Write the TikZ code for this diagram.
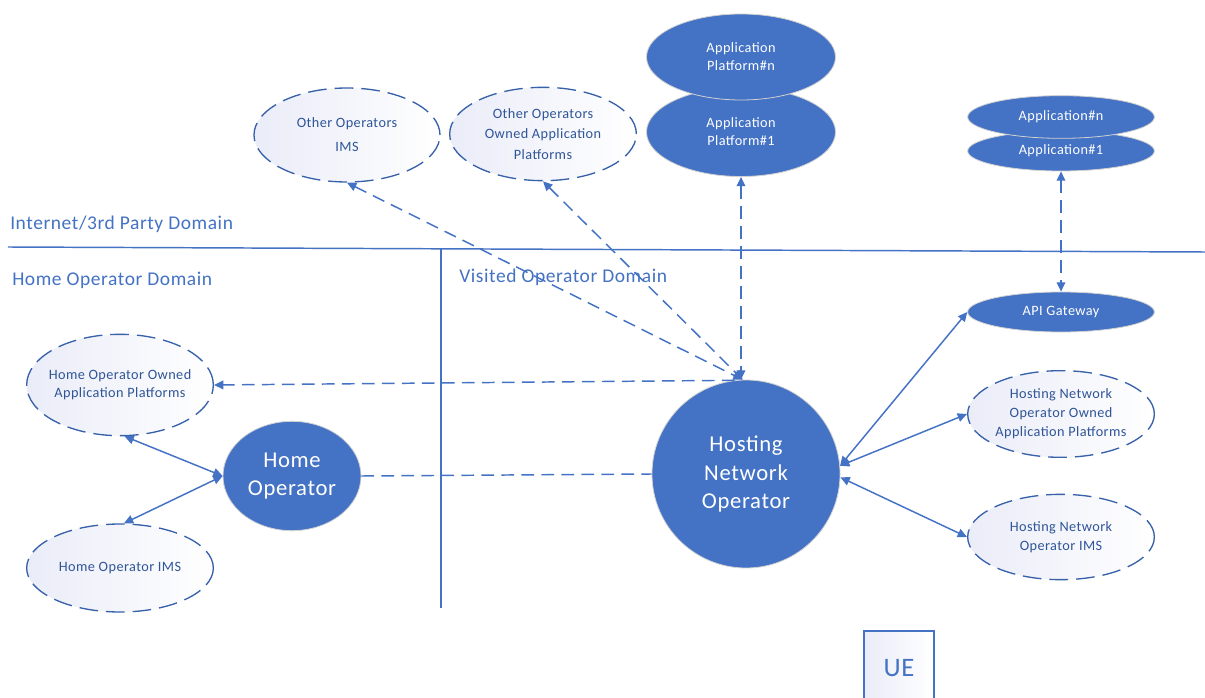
\documentclass[tikz,border=0pt]{standalone}
\usepackage{fontspec}
\setmainfont{Carlito}[LetterSpace=3]
\usetikzlibrary{shapes.geometric,arrows.meta}
\definecolor{mainblue}{RGB}{68,114,196}
\definecolor{darkblue}{RGB}{47,85,151}
\definecolor{lav}{RGB}{234,236,248}
\tikzset{
  >={Triangle[length=7pt,width=6.5pt]},
  solidell/.style={ellipse,fill=mainblue,draw=white!82!black,line width=0.6pt,text=white,align=center,inner xsep=-8pt,inner ysep=0pt,font=\fontsize{10.7}{13.5}\selectfont},
  dashell/.style={ellipse,draw=darkblue!60!mainblue,line width=1pt,dash pattern=on 14pt off 6pt,left color=lav,right color=white,text=darkblue,align=center,inner xsep=-8pt,inner ysep=0pt,font=\fontsize{10.7}{14.25}\selectfont},
  conn/.style={draw=mainblue,line width=1.1pt},
  dconn/.style={conn,dash pattern=on 9.5pt off 5.5pt},
  domline/.style={draw=mainblue,line width=1.1pt},
  domlabel/.style={anchor=west,inner sep=0pt,text=mainblue,font=\fontsize{14.6}{17}\selectfont},
  bigfont/.style={font=\fontsize{17}{21.5}\selectfont}
}
\begin{document}
\begin{tikzpicture}[x=0.75pt,y=-0.75pt]
\clip (0,0) rectangle (1205,698);
\fill[white] (0,0) rectangle (1205,698);

% domain lines
\coordinate (h1) at (8,247);
\coordinate (h2) at (1205,252);
\coordinate (v1) at (441,248);
\coordinate (v2) at (441,608);
\draw[domline] (h1) -- (h2);
\draw[domline] (v1) -- (v2);
\node[domlabel] (lint) at (10,224) {Internet/3rd Party Domain};
\node[domlabel] (lhome) at (12,280) {Home Operator Domain};
\node[domlabel] (lvis) at (459,277) {Visited Operator Domain};

% top dashed ellipses
\node[dashell,minimum width=139.5pt,minimum height=70.5pt,font=\fontsize{10.7}{18}\selectfont] (ooims) at (347,135) {Other Operators\\IMS};
\node[dashell,minimum width=140pt,minimum height=70pt,font=\fontsize{10.7}{15.5}\selectfont] (oooap) at (543,134) {Other Operators\\Owned Application\\Platforms};

% application platforms
\node[solidell,minimum width=141.75pt,minimum height=66.75pt] (ap1) at (741,132) {Application\\Platform\#1};
\node[solidell,minimum width=141.75pt,minimum height=64.5pt] (apn) at (741,57) {Application\\Platform\#n};

% applications
\node[solidell,minimum width=140pt,minimum height=30pt] (app1) at (1061,151) {Application\#1};
\node[solidell,minimum width=140pt,minimum height=32pt] (appn) at (1061,117) {Application\#n};

% right side
\node[solidell,minimum width=140pt,minimum height=30pt] (api) at (1061,312) {API Gateway};
\node[dashell,minimum width=140pt,minimum height=65pt] (hnooap) at (1061,414) {Hosting Network\\Operator Owned\\Application Platforms};
\node[dashell,minimum width=140pt,minimum height=64pt] (hnoims) at (1061,537) {Hosting Network\\Operator IMS};

% hosting network operator
\node[circle,fill=mainblue,draw=white!82!black,line width=0.6pt,minimum size=141pt,inner sep=0pt,text=white,align=center,bigfont] (hno) at (746,474) {Hosting\\Network\\Operator};

% home side
\node[ellipse,fill=mainblue,draw=white!82!black,line width=0.6pt,minimum width=103.5pt,minimum height=82pt,inner sep=0pt,text=white,align=center,font=\fontsize{17}{21}\selectfont] (home) at (292,476) {Home\\Operator};
\node[dashell,minimum width=140pt,minimum height=76pt,font=\fontsize{10.7}{13.5}\selectfont] (hooap) at (120,385) {Home Operator Owned\\Application Platforms};
\node[dashell,minimum width=140pt,minimum height=66pt] (hoims) at (120,568) {Home Operator IMS};

% UE
\node[rectangle,draw=mainblue,line width=1.6pt,left color=lav,right color=white,minimum width=52.5pt,minimum height=55.5pt,inner sep=0pt,text=mainblue,font=\fontsize{20}{24}\selectfont] (ue) at (899,668) {UE};

% connectors
\draw[dconn] (home.east) -- (hno.west);
\draw[dconn,<->] (ooims.south) -- (hno.92);
\draw[dconn,<->] (oooap.south) -- (hno.92);
\draw[dconn,<->] (ap1.south) -- (ap1.south |- hno.north);
\draw[dconn,->] (hno.97) -- (hooap.east);
\draw[dconn,<->] (app1.south) -- (api.north);
\draw[conn,<->] (hno.5) -- (api.west);
\draw[conn,<->] (hno.5) -- (hnooap.west);
\draw[conn,<->] (hno.-2) -- (hnoims.west);
\draw[conn,<->] (home.west) -- (hooap.-85);
\draw[conn,<->] (home.west) -- (hoims.85);
\end{tikzpicture}
\end{document}
